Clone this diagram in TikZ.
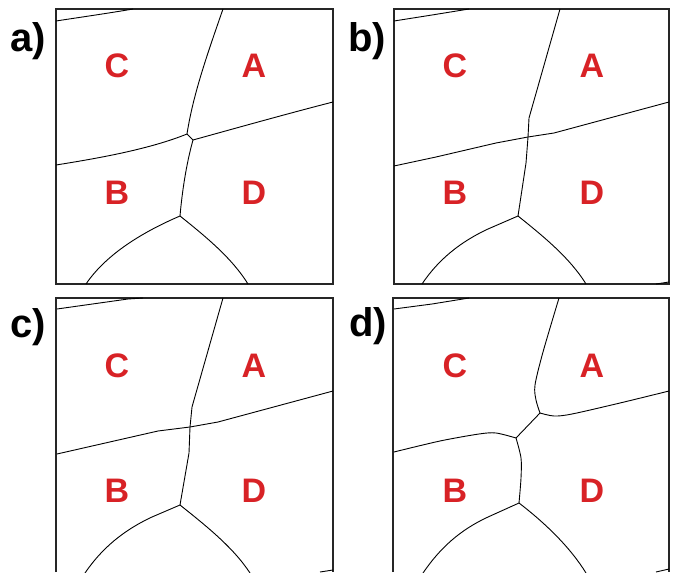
\documentclass[tikz,border=0pt]{standalone}
\usepackage{fontspec}
\setmainfont{Liberation Sans}
\definecolor{grainred}{RGB}{216,34,38}
\begin{document}
\begin{tikzpicture}[x=1pt,y=-1pt,
  frame/.style={draw=black!85,line width=1.6pt},
  edge/.style={draw=black,line width=0.9pt,line join=round},
  grain/.style={text=grainred,font=\fontsize{34}{34}\selectfont\bfseries},
  tag/.style={text=black,font=\fontsize{40}{40}\selectfont\bfseries}]
\useasboundingbox (0,0) rectangle (676,572);
\fill[white] (0,0) rectangle (676,572);

% ---------- panel a ----------
\draw[frame] (56,9) rectangle (333,284);
\coordinate (a1) at (187,134);
\coordinate (a2) at (193,140);
\coordinate (a3) at (180,216);
\draw[edge] (56,21) .. controls (82,17) and (110,13) .. (133,9);
\draw[edge] (223,9) .. controls (207,55) and (193,95) .. (a1);
\draw[edge] (a1) -- (a2);
\draw[edge] (56,165) .. controls (100,158) and (150,149) .. (a1);
\draw[edge] (a2) .. controls (240,127) and (290,113) .. (333,102);
\draw[edge] (a2) .. controls (186,165) and (182,193) .. (a3);
\draw[edge] (a3) .. controls (145,231) and (107,253) .. (86,284);
\draw[edge] (a3) .. controls (205,236) and (232,258) .. (248,284);
\node[grain] (aC) at (117,66) {C};
\node[grain] (aA) at (254,66) {A};
\node[grain] (aB) at (117,193) {B};
\node[grain] (aD) at (254,193) {D};
\node[tag] (la) at (28,41) {a)};

% ---------- panel b ----------
\draw[frame] (394,9) rectangle (669,284);
\coordinate (b1) at (528,137);
\coordinate (b2) at (518,216);
\draw[edge] (394,21) -- (432,15) -- (469,9);
\draw[edge] (560,9) -- (529,118) -- (b1);
\draw[edge] (394,166) -- (436,157) -- (496,143) -- (b1) -- (554,133) -- (669,102);
\draw[edge] (b1) -- (526,163) -- (b2);
\draw[edge] (b2) -- (488,229) .. controls (460,242) and (438,260) .. (422,284);
\draw[edge] (b2) .. controls (543,236) and (570,258) .. (586,284);
\draw[edge] (656,284) -- (669,282);
\node[grain] (bC) at (455,66) {C};
\node[grain] (bA) at (592,66) {A};
\node[grain] (bB) at (455,193) {B};
\node[grain] (bD) at (592,193) {D};
\node[tag] (lb) at (367,41) {b)};

% ---------- panel c ----------
\draw[frame] (56,572) -- (56,298) -- (333,298) -- (333,572);
\coordinate (c1) at (190,427);
\coordinate (c2) at (180,505);
\draw[edge] (57,309) -- (128,299) -- (143,298);
\draw[edge] (223,298) -- (192,407) -- (c1);
\draw[edge] (57,454) -- (158,431) -- (c1) -- (218,422) -- (333,391);
\draw[edge] (c1) -- (189,453) -- (c2);
\draw[edge] (c2) -- (152,517) .. controls (124,530) and (102,548) .. (85,573);
\draw[edge] (c2) .. controls (205,525) and (233,547) .. (250,573);
\draw[edge] (320,572) -- (333,570);
\node[grain] (cC) at (117,366) {C};
\node[grain] (cA) at (254,366) {A};
\node[grain] (cB) at (117,491) {B};
\node[grain] (cD) at (254,491) {D};
\node[tag] (lc) at (28,327) {c)};

% ---------- panel d ----------
\draw[frame] (393,572) -- (393,298) -- (669,298) -- (669,572);
\coordinate (d1) at (540,413);
\coordinate (d2) at (516,438);
\coordinate (d3) at (519,503);
\draw[edge] (394,309) -- (432,304) -- (469,298);
\draw[edge] plot[smooth] coordinates {(559,298) (543,352) (535,385) (536,400) (d1)};
\draw[edge] plot[smooth] coordinates {(d1) (554,416) (572,414) (620,403) (669,391)};
\draw[edge] (d1) -- (d2);
\draw[edge] plot[smooth] coordinates {(d2) (496,433) (479,434) (440,441) (394,452)};
\draw[edge] plot[smooth] coordinates {(d2) (521,458) (521,478) (d3)};
\draw[edge] (d3) -- (488,517) .. controls (460,530) and (440,548) .. (423,573);
\draw[edge] (d3) .. controls (545,523) and (570,547) .. (586,573);
\draw[edge] (656,572) -- (669,569);
\node[grain] (dC) at (455,366) {C};
\node[grain] (dA) at (592,366) {A};
\node[grain] (dB) at (455,491) {B};
\node[grain] (dD) at (592,491) {D};
\node[tag] (ld) at (368,326) {d)};
\end{tikzpicture}
\end{document}
